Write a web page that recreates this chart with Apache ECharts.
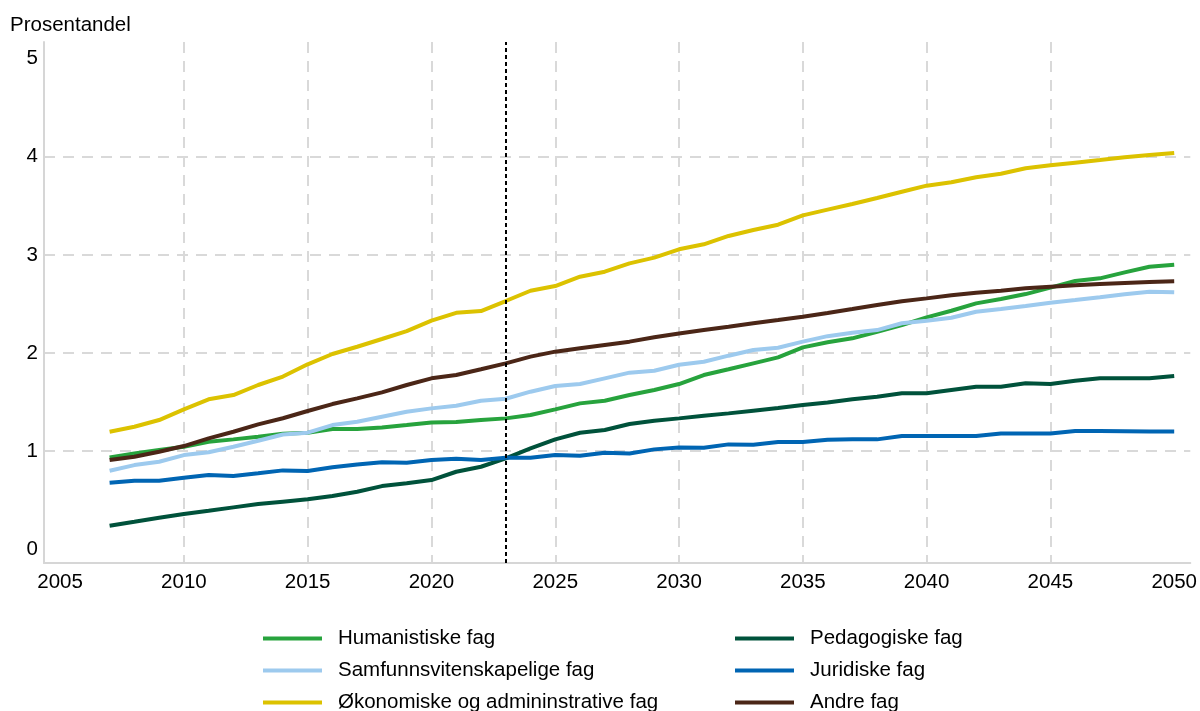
<!DOCTYPE html>
<html>
<head>
<meta charset="utf-8">
<script src="https://cdn.jsdelivr.net/npm/echarts@6/dist/echarts.min.js"></script>
<style>
html,body{margin:0;padding:0;background:#fff;}
#chart{width:1200px;height:711px;}
</style>
</head>
<body>
<div id="chart"></div>
<script>
const years = [2007,2008,2009,2010,2011,2012,2013,2014,2015,2016,2017,2018,2019,2020,2021,2022,2023,2024,2025,2026,2027,2028,2029,2030,2031,2032,2033,2034,2035,2036,2037,2038,2039,2040,2041,2042,2043,2044,2045,2046,2047,2048,2049,2050];

const humanistiske = [0.936,0.977,1.011,1.045,1.096,1.12,1.147,1.178,1.188,1.225,1.225,1.242,1.266,1.293,1.297,1.317,1.334,1.368,1.426,1.487,1.514,1.572,1.623,1.684,1.776,1.834,1.895,1.956,2.058,2.11,2.15,2.217,2.285,2.364,2.431,2.506,2.55,2.601,2.666,2.734,2.761,2.822,2.88,2.9];
const samfunn = [0.8,0.858,0.892,0.96,0.988,1.045,1.106,1.17,1.188,1.266,1.3,1.351,1.402,1.436,1.463,1.514,1.534,1.606,1.664,1.684,1.742,1.8,1.82,1.881,1.911,1.973,2.031,2.054,2.116,2.172,2.207,2.234,2.303,2.33,2.36,2.421,2.448,2.479,2.513,2.54,2.568,2.598,2.625,2.619];
const okonomiske = [1.198,1.249,1.317,1.426,1.528,1.572,1.674,1.76,1.885,1.99,2.064,2.143,2.224,2.33,2.41,2.428,2.53,2.635,2.683,2.778,2.829,2.914,2.972,3.057,3.108,3.193,3.254,3.308,3.403,3.462,3.519,3.58,3.644,3.706,3.74,3.791,3.827,3.883,3.913,3.94,3.967,3.995,4.018,4.039];
const pedagogiske = [0.24,0.28,0.321,0.359,0.392,0.427,0.461,0.485,0.509,0.542,0.586,0.644,0.672,0.705,0.79,0.841,0.927,1.028,1.12,1.188,1.215,1.276,1.31,1.334,1.361,1.385,1.412,1.439,1.47,1.496,1.528,1.555,1.589,1.589,1.623,1.657,1.657,1.691,1.685,1.718,1.742,1.742,1.742,1.766];
const juridiske = [0.678,0.698,0.698,0.729,0.756,0.746,0.774,0.804,0.797,0.835,0.865,0.886,0.882,0.909,0.923,0.909,0.933,0.933,0.96,0.953,0.984,0.977,1.018,1.038,1.035,1.069,1.066,1.093,1.093,1.117,1.12,1.12,1.154,1.154,1.154,1.154,1.181,1.18,1.18,1.205,1.205,1.203,1.2,1.2];
const andre = [0.909,0.943,0.994,1.052,1.13,1.198,1.273,1.335,1.409,1.48,1.538,1.599,1.674,1.742,1.776,1.834,1.895,1.963,2.014,2.048,2.082,2.116,2.16,2.2,2.234,2.268,2.303,2.336,2.37,2.408,2.448,2.489,2.527,2.557,2.588,2.615,2.635,2.66,2.676,2.69,2.703,2.714,2.724,2.731];

const xTickLabels = [2005,2010,2015,2020,2025,2030,2035,2040,2045,2050];
const xGridValues = [2010,2015,2020,2025,2030,2035,2040,2045];
const yTickLabels = [0,1,2,3,4,5];
const yGridValues = [1,2,3,4];
const prognoseStart = 2023;

const names = ['Humanistiske fag','Samfunnsvitenskapelige fag','Økonomiske og admininstrative fag','Pedagogiske fag','Juridiske fag','Andre fag'];
const values = [humanistiske, samfunn, okonomiske, pedagogiske, juridiske, andre];
const colors = ['#27a33d','#9dcaee','#dcc200','#00523b','#0065b3','#4b2617'];

const FONT = "'Liberation Sans', Arial, Helvetica, sans-serif";
const FS = 20.5;

const series = names.map((n,i)=>({
  name: n,
  type: 'line',
  data: years.map((y,j)=>[y, values[i][j]]),
  showSymbol: false,
  symbol: 'none',
  lineStyle: {width: 4, color: colors[i]},
  itemStyle: {color: colors[i]},
  z: 3
}));
series[0].markLine = {
  silent: true,
  symbol: 'none',
  label: {show: false},
  lineStyle: {color: '#000', type: [4,3], width: 2},
  data: [{xAxis: prognoseStart}],
  z: 5
};

const legendText = {fontFamily: FONT, fontSize: FS, lineHeight: 20, color: '#000', padding: [0,0,0,11]};

const chart = echarts.init(document.getElementById('chart'), null, {renderer: 'canvas'});
chart.setOption({
  animation: false,
  backgroundColor: '#fff',
  title: {
    text: 'Prosentandel',
    left: 10, top: 15, padding: 0,
    textStyle: {fontFamily: FONT, fontSize: FS, fontWeight: 'normal', color: '#000'}
  },
  grid: {left: 44, right: 8, top: 42, bottom: 148, containLabel: false},
  xAxis: {
    type: 'value',
    min: 2004.35, max: 2050.65,
    axisLine: {show: true, onZero: false, lineStyle: {color: '#d6d6d6', width: 2}},
    axisTick: {show: false, customValues: xGridValues},
    axisLabel: {customValues: xTickLabels, margin: 9, fontFamily: FONT, fontSize: FS, color: '#000', formatter: v => String(v)},
    splitLine: {show: true, lineStyle: {color: '#d9d9d9', width: 2, type: [11,8]}}
  },
  yAxis: {
    type: 'value',
    min: -0.14, max: 5.17,
    axisLine: {show: true, onZero: false, lineStyle: {color: '#d6d6d6', width: 2}},
    axisTick: {show: false, customValues: yGridValues},
    axisLabel: {customValues: yTickLabels, margin: 6, fontFamily: FONT, fontSize: FS, color: '#000', formatter: v => String(v)},
    splitLine: {show: true, lineStyle: {color: '#d9d9d9', width: 2, type: [11,8]}}
  },
  legend: [
    {
      orient: 'vertical', left: 263, top: 628, padding: 0, height: 90,
      itemWidth: 59, itemHeight: 4, itemGap: 11, icon: 'rect',
      data: names.slice(0,3), textStyle: legendText, selectedMode: false
    },
    {
      orient: 'vertical', left: 735, top: 628, padding: 0, height: 90,
      itemWidth: 59, itemHeight: 4, itemGap: 11, icon: 'rect',
      data: names.slice(3,6), textStyle: legendText, selectedMode: false
    }
  ],
  series: series
});
</script>
</body>
</html>
